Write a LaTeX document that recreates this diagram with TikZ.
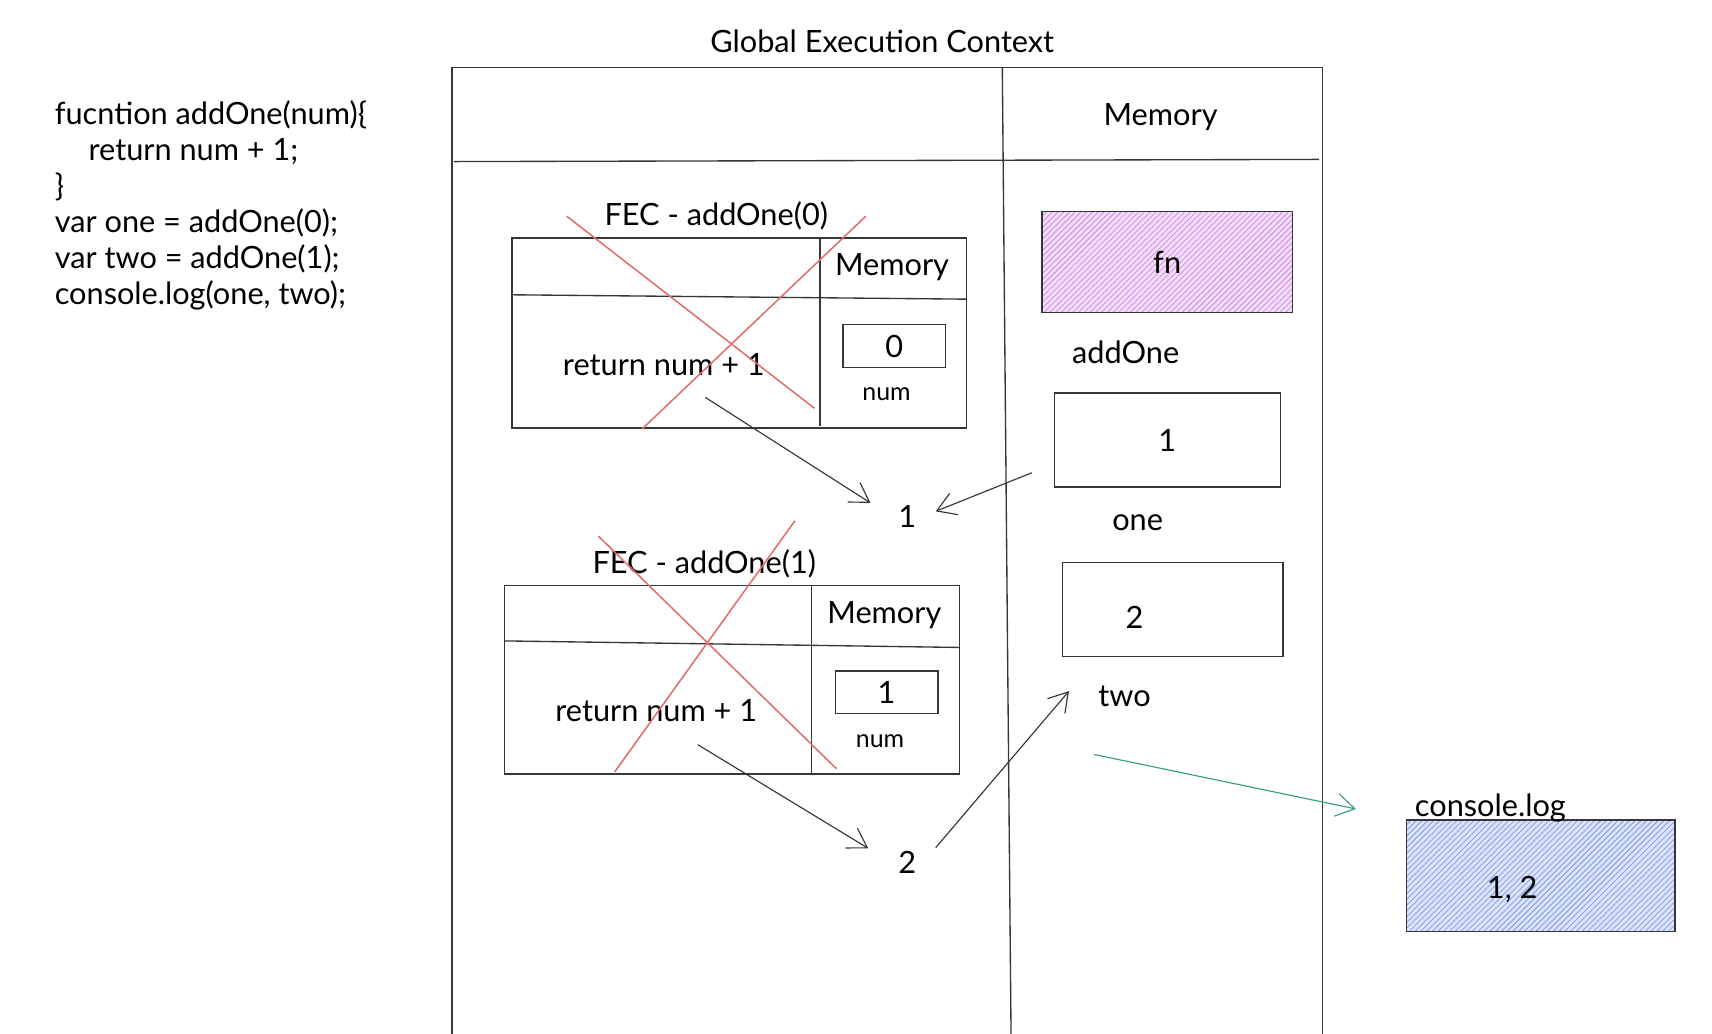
\documentclass[tikz,border=0pt]{standalone}
\usepackage{fontspec}
\setmainfont{Lato}
\usepackage{tikz}
\usetikzlibrary{arrows.meta, patterns}

\definecolor{inkgray}{HTML}{363636}
\definecolor{crossred}{HTML}{E26D6D}
\definecolor{fnpurple}{HTML}{C36BDD}
\definecolor{logblue}{HTML}{5E82E6}
\definecolor{arrowgreen}{HTML}{3A9E7E}

\tikzset{
  hand/.style={font=\fontsize{16}{18.8}\selectfont},
  small/.style={font=\fontsize{13}{16}\selectfont},
  frame/.style={draw=inkgray, line width=0.7pt},
  cellbox/.style={draw=inkgray, line width=0.7pt, inner sep=0pt},
  strike/.style={draw=crossred, line width=0.8pt},
}

\begin{document}
\begin{tikzpicture}[x=0.2mm, y=-0.2mm]
\useasboundingbox (0,0) rectangle (1568,947);

% frames
\begin{scope}[frame]
    \draw (414,947) -- (414,62) -- (1211,62) -- (1211,947);
    \draw (918,62) -- (926,947);
    \draw (416,148) -- (1208,146);

    \draw (469,218) rectangle (885,392);
    \draw (751,218) -- (751,390);
    \draw (469,270) -- (885,274);

    \draw (462,536) rectangle (879,709);
    \draw (743,536) -- (743,709);
    \draw (462,587) -- (879,593);
\end{scope}

\begin{scope}[hand]
    \node[anchor=north west, align=left] (code) at (44,86) {fucntion addOne(num)\{\\
        \hspace*{1.1em}return num + 1;\\
        \}\\
        var one = addOne(0);\\
        var two = addOne(1);\\
        console.log(one, two);};

    \node (gec) at (808,38) {Global Execution Context};
    \node (gmem) at (1063,107) {Memory};

    \node (f1title) at (656,198) {FEC - addOne(0)};
    \node (f1mem) at (817,245) {Memory};
    \node[cellbox, minimum width=18.8mm, minimum height=7.8mm] (f1num) at (819,317) {0};
    \node[small] (f1lbl) at (812,361) {num};
    \node (f1ret) at (608,334) {return num + 1};

    \node (f2title) at (645,516) {FEC - addOne(1)};
    \node (f2mem) at (810,563) {Memory};
    \node[cellbox, minimum width=18.8mm, minimum height=7.8mm] (f2num) at (812,634) {1};
    \node[small] (f2lbl) at (806,679) {num};
    \node (f2ret) at (601,651) {return num + 1};

    \node (v1) at (831,473) {1};
    \node (v2) at (831,790) {2};

    \node[cellbox, minimum width=45.8mm, minimum height=18.4mm,
          preaction={fill=fnpurple!22}, pattern=north east lines,
          pattern color=fnpurple!80] (fn) at (1069,240) {fn};
    \node (fnlbl) at (1031,323) {addOne};
    \node[cellbox, minimum width=41.4mm, minimum height=17.2mm] (one) at (1069,403) {1};
    \node (onelbl) at (1042,479) {one};
    \node[cellbox, minimum width=40.4mm, minimum height=17.2mm] (two) at (1074,558) {};
    \node (twoval) at (1039,565) {2};
    \node (twolbl) at (1030,638) {two};

    \node[cellbox, minimum width=49.2mm, minimum height=20.4mm,
          preaction={fill=logblue!22}, pattern=north east lines,
          pattern color=logblue!80] (logbox) at (1411,802) {};
    \node (logval) at (1385,815) {1, 2};
    \node (loglbl) at (1365,740) {console.log};
\end{scope}

% crossed out contexts
\draw[strike] (519,198) -- (746,374);
\draw[strike] (793,198) -- (588,393);
\draw[strike] (548,491) -- (766,704);
\draw[strike] (728,477) -- (563,707);

\coordinate (t1) at (646,364);
\coordinate (t2) at (945,433);
\coordinate (t3) at (639,682);
\coordinate (twoin) at (979,633);
\coordinate (t5) at (1002,691);

\begin{scope}[>={Straight Barb[length=3.4mm, width=4.2mm]},
              every edge/.style={draw=inkgray, line width=0.6pt}]
    \path [->] (t1) edge [shorten >=4.6mm] (v1.west);
    \path [->] (t2) edge [shorten >=2.5mm] (v1.east);
    \path [->] (t3) edge [shorten >=5mm] (v2.west);
    \path [->] (v2.east) edge [shorten <=3.6mm] (twoin);
    \path [->] (t5) edge [draw=arrowgreen, shorten >=9.3mm] (logbox.north west);
\end{scope}
\end{tikzpicture}
\end{document}
